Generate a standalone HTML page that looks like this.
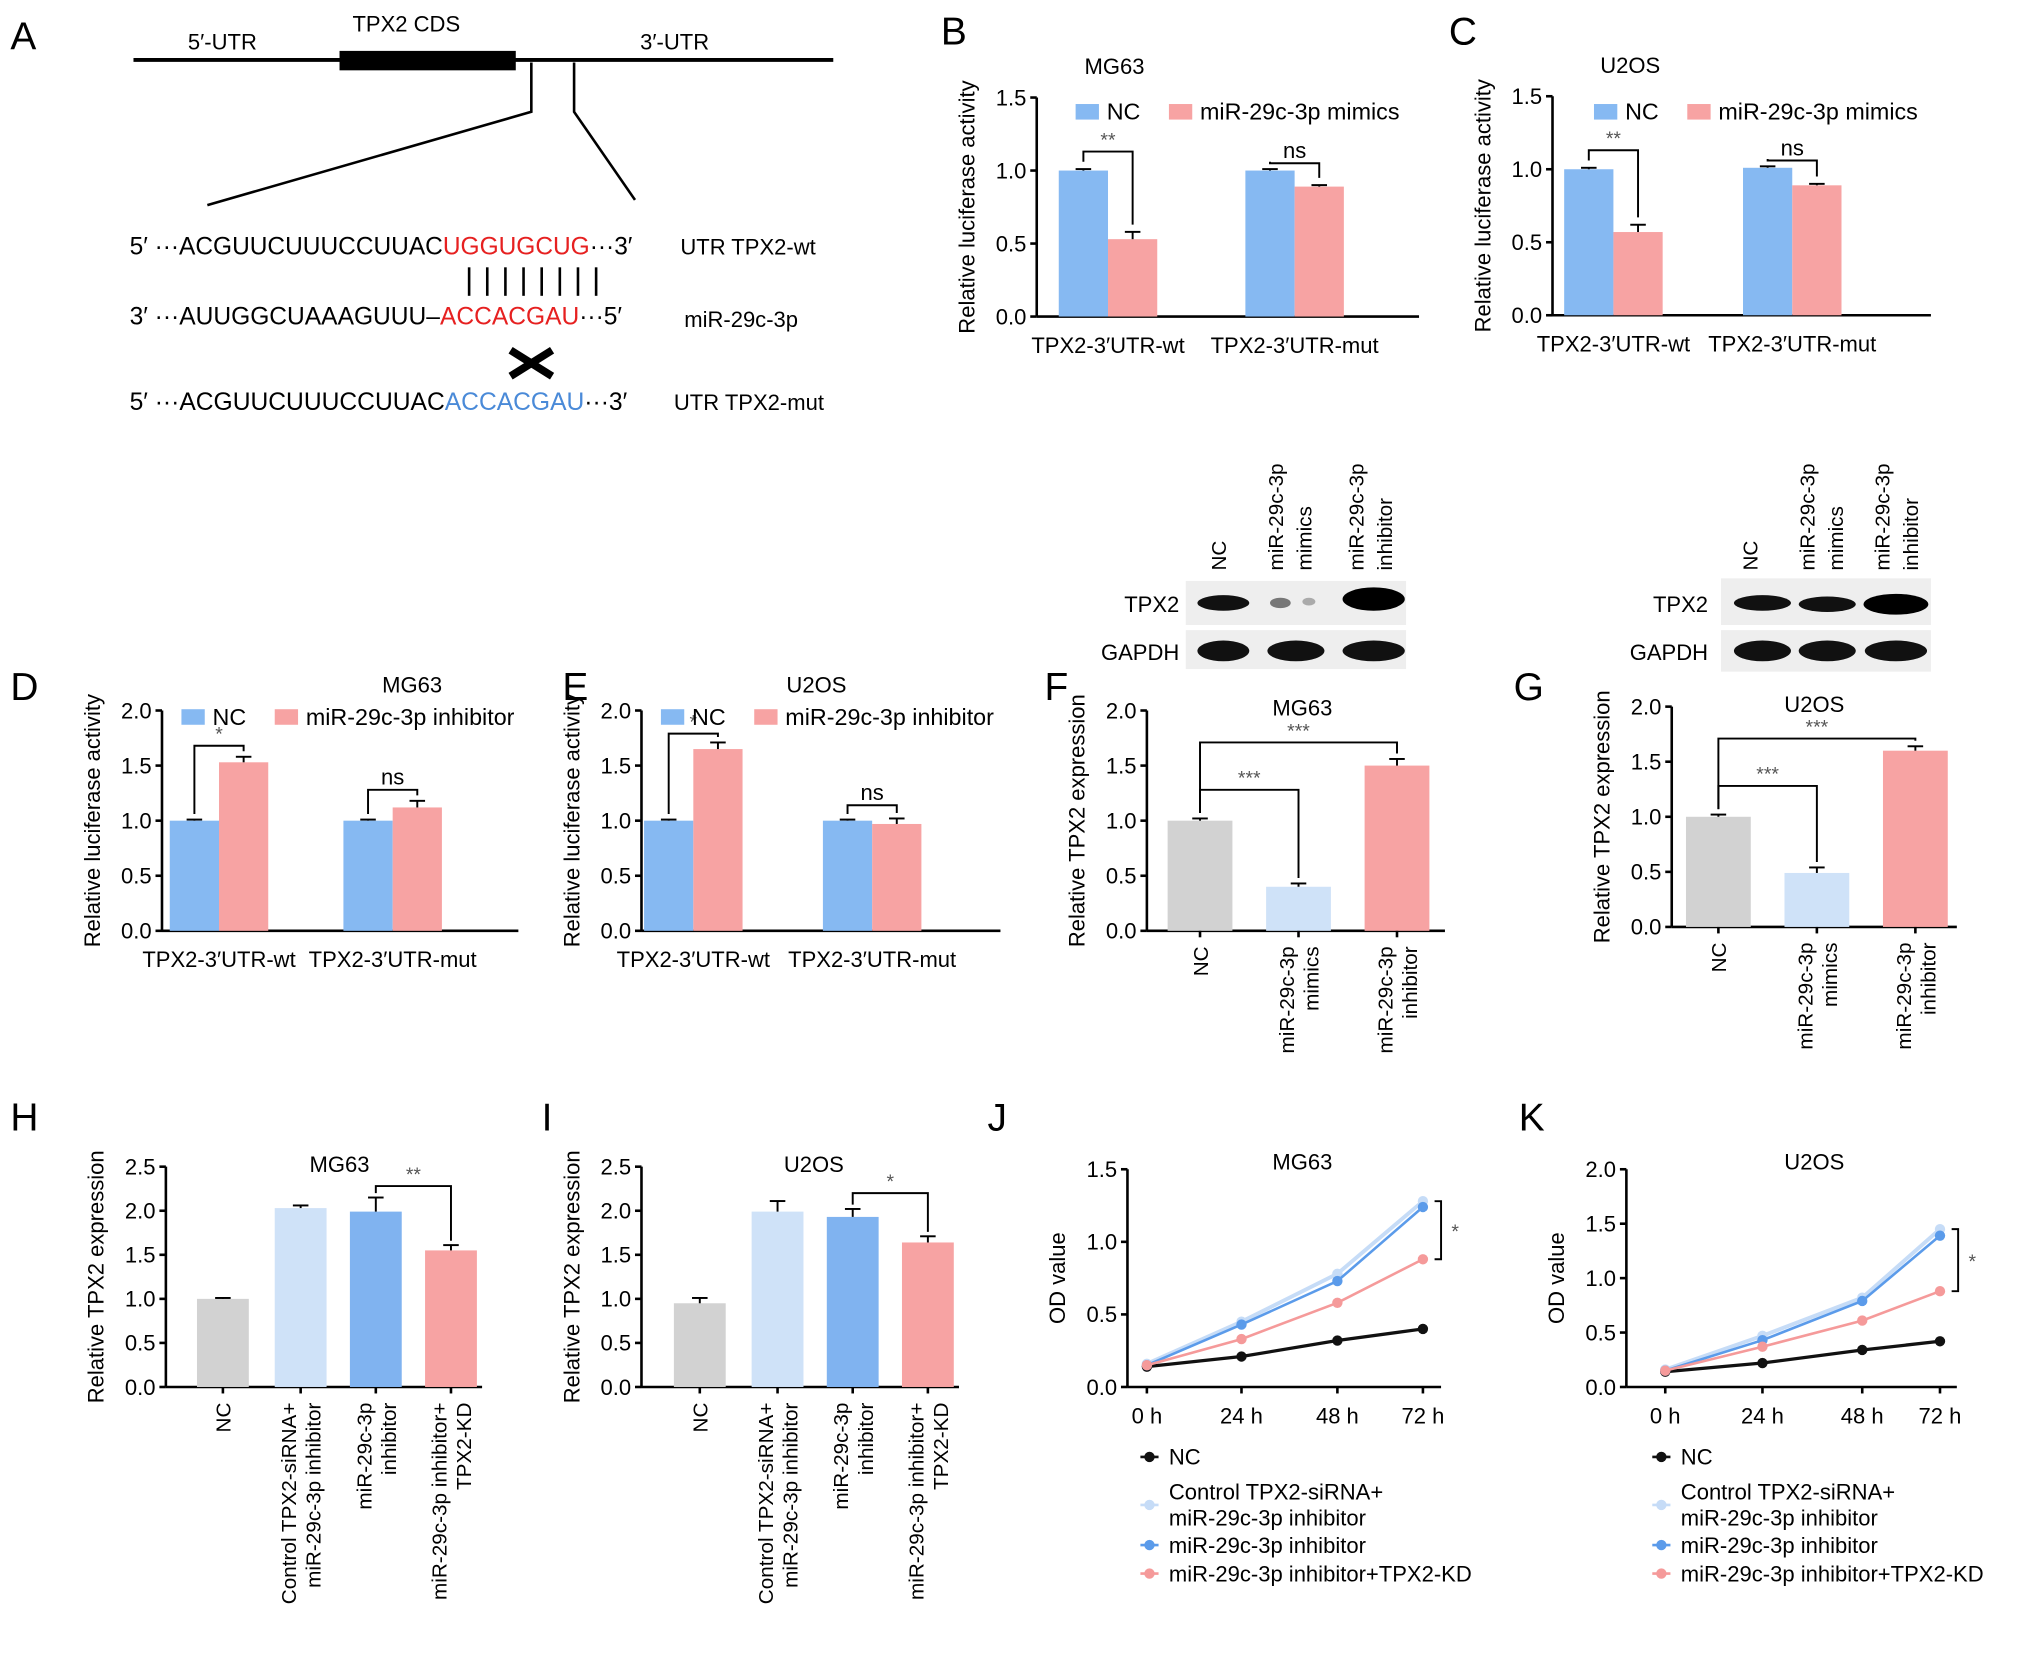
<!DOCTYPE html>
<html><head><meta charset="utf-8">
<style>
html,body{margin:0;padding:0;background:#fff;}
svg{display:block;font-family:"Liberation Sans",sans-serif;}
</style></head>
<body>
<svg id="fig" width="2032" height="1653" viewBox="0 0 1568 1275" xmlns="http://www.w3.org/2000/svg">
<g font-size="30" fill="#000">
<text x="8" y="38">A</text><text x="726" y="34">B</text><text x="1118" y="34">C</text>
<text x="8" y="540">D</text><text x="434" y="540">E</text><text x="806" y="540">F</text><text x="1168" y="540">G</text>
<text x="8" y="872">H</text><text x="418" y="872">I</text><text x="762" y="872">J</text><text x="1172" y="872">K</text>
</g>
<g font-size="17">
<line x1="103" y1="46" x2="643" y2="46" stroke="#000" stroke-width="3"/>
<rect x="262" y="39" width="136" height="15" fill="#000"/>
<text x="145" y="38">5′-UTR</text><text x="272" y="24">TPX2 CDS</text><text x="494" y="38">3′-UTR</text>
<polyline points="410,48 410,86 160,158" fill="none" stroke="#000" stroke-width="2"/>
<polyline points="443,48 443,86 490,154" fill="none" stroke="#000" stroke-width="2"/>
<text x="100" y="196" font-size="19" textLength="388" lengthAdjust="spacingAndGlyphs">5′ ···ACGUUCUUUCCUUAC<tspan fill="#e62020">UGGUGCUG</tspan>···3′</text>
<text x="525" y="196">UTR TPX2-wt</text>
<g stroke="#000" stroke-width="2"><line x1="362" y1="206" x2="362" y2="228"/><line x1="376" y1="206" x2="376" y2="228"/><line x1="390" y1="206" x2="390" y2="228"/><line x1="404" y1="206" x2="404" y2="228"/><line x1="418" y1="206" x2="418" y2="228"/><line x1="432" y1="206" x2="432" y2="228"/><line x1="446" y1="206" x2="446" y2="228"/><line x1="460" y1="206" x2="460" y2="228"/></g>
<text x="100" y="250" font-size="19" textLength="380" lengthAdjust="spacingAndGlyphs">3′ ···AUUGGCUAAAGUUU–<tspan fill="#e62020">ACCACGAU</tspan>···5′</text>
<text x="528" y="252">miR-29c-3p</text>
<g stroke="#000" stroke-width="6"><line x1="394" y1="270" x2="426" y2="290"/><line x1="426" y1="270" x2="394" y2="290"/></g>
<text x="100" y="316" font-size="19" textLength="384" lengthAdjust="spacingAndGlyphs">5′ ···ACGUUCUUUCCUUAC<tspan fill="#4a8ad8">ACCACGAU</tspan>···3′</text>
<text x="520" y="316">UTR TPX2-mut</text>
</g>
<g font-size="17">
<rect x="915" y="448" width="170" height="34" fill="#eee"/><rect x="915" y="486" width="170" height="30" fill="#eee"/>
<ellipse cx="944" cy="465" rx="20" ry="6" fill="#111"/><ellipse cx="988" cy="465" rx="8" ry="4" fill="#777"/><ellipse cx="1010" cy="464" rx="5" ry="3" fill="#aaa"/><ellipse cx="1060" cy="462" rx="24" ry="9" fill="#000"/>
<ellipse cx="944" cy="502" rx="20" ry="8" fill="#111"/><ellipse cx="1000" cy="502" rx="22" ry="8" fill="#111"/><ellipse cx="1060" cy="502" rx="24" ry="8" fill="#111"/>
<text x="910" y="472" text-anchor="end">TPX2</text><text x="910" y="509" text-anchor="end">GAPDH</text>
<g font-size="16"><text transform="translate(946,440) rotate(-90)">NC</text><text transform="translate(990,440) rotate(-90)">miR-29c-3p</text><text transform="translate(1012,440) rotate(-90)">mimics</text><text transform="translate(1052,440) rotate(-90)">miR-29c-3p</text><text transform="translate(1074,440) rotate(-90)">inhibitor</text></g>
<rect x="1328" y="446" width="162" height="36" fill="#eee"/><rect x="1328" y="486" width="162" height="32" fill="#eee"/>
<ellipse cx="1360" cy="465" rx="22" ry="6" fill="#111"/><ellipse cx="1410" cy="466" rx="22" ry="6" fill="#111"/><ellipse cx="1463" cy="466" rx="25" ry="8" fill="#000"/>
<ellipse cx="1360" cy="502" rx="22" ry="8" fill="#111"/><ellipse cx="1410" cy="502" rx="22" ry="8" fill="#111"/><ellipse cx="1463" cy="502" rx="24" ry="8" fill="#111"/>
<text x="1318" y="472" text-anchor="end">TPX2</text><text x="1318" y="509" text-anchor="end">GAPDH</text>
<g font-size="16"><text transform="translate(1356,440) rotate(-90)">NC</text><text transform="translate(1400,440) rotate(-90)">miR-29c-3p</text><text transform="translate(1422,440) rotate(-90)">mimics</text><text transform="translate(1458,440) rotate(-90)">miR-29c-3p</text><text transform="translate(1480,440) rotate(-90)">inhibitor</text></g>
</g>
</svg>
<script>
// ---- data ----
const bB_nc=[1.0,1.0], bB_trt=[0.53,0.89], bB_err=[0.05,0.01];
const bC_nc=[1.0,1.01], bC_trt=[0.57,0.89], bC_err=[0.05,0.01];
const bD_nc=[1.0,1.0], bD_trt=[1.53,1.12], bD_err=[0.05,0.06];
const bE_nc=[1.0,1.0], bE_trt=[1.65,0.97], bE_err=[0.06,0.05];
const groupCats=["TPX2-3′UTR-wt","TPX2-3′UTR-mut"];
const bF_vals=[1.0,0.40,1.50], bF_err=[0.02,0.03,0.06];
const bG_vals=[1.0,0.49,1.60], bG_err=[0.02,0.05,0.04];
const fgCats=[["NC"],["miR-29c-3p","mimics"],["miR-29c-3p","inhibitor"]];
const bH_vals=[1.0,2.03,1.99,1.55], bH_err=[0.01,0.03,0.16,0.06];
const bI_vals=[0.95,1.99,1.93,1.64], bI_err=[0.06,0.12,0.09,0.07];
const hiCats=[["NC"],["Control TPX2-siRNA+","miR-29c-3p inhibitor"],["miR-29c-3p","inhibitor"],["miR-29c-3p inhibitor+","TPX2-KD"]];
const timeLabels=["0 h","24 h","48 h","72 h"];
const J_nc=[0.14,0.21,0.32,0.40], J_ctrl=[0.16,0.45,0.78,1.28], J_inh=[0.15,0.43,0.73,1.24], J_kd=[0.15,0.33,0.58,0.88];
const K_nc=[0.14,0.22,0.34,0.42], K_ctrl=[0.16,0.47,0.82,1.45], K_inh=[0.15,0.43,0.79,1.39], K_kd=[0.15,0.37,0.61,0.88];
const ticks15=[0,0.5,1.0,1.5], ticks20=[0,0.5,1.0,1.5,2.0], ticks25=[0,0.5,1.0,1.5,2.0,2.5];

const NS="http://www.w3.org/2000/svg", svg=document.getElementById('fig');
const BLUE="#86b9f2", PINK="#f7a3a3", GRAY="#d2d2d2", LBLUE="#cfe2f8", MBLUE="#80b3f0";
function mk(tag,attrs,parent){const e=document.createElementNS(NS,tag);for(const k in attrs)e.setAttribute(k,attrs[k]);(parent||svg).appendChild(e);return e;}
function txt(s,attrs,parent){const e=mk('text',attrs,parent);e.textContent=s;return e;}

function axes(g,ax,y0,yTop,xEnd,ticks,max,ylabel){
  const ys=v=>y0-(v/max)*(y0-yTop);
  let e=mk('line',{x1:ax,y1:y0,x2:ax,y2:yTop,stroke:'#000','stroke-width':2},g);
  
  e=mk('line',{x1:ax,y1:y0,x2:xEnd,y2:y0,stroke:'#000','stroke-width':2},g);
  
  ticks.forEach(t=>{mk('line',{x1:ax-5,y1:ys(t),x2:ax,y2:ys(t),stroke:'#000','stroke-width':2},g);
    const l=txt(t.toFixed(1),{x:ax-8,y:ys(t)+6,'text-anchor':'end','font-size':17},g);
    });
  const yl=txt(ylabel,{transform:`translate(${ax-48},${(y0+yTop)/2}) rotate(-90)`,'text-anchor':'middle','font-size':17},g);
  
  return ys;
}
function bar(g,cx,w,v,err,ys,col){
  const r=mk('rect',{x:cx-w/2,y:ys(v),width:w,height:ys(0)-ys(v),fill:col},g);
  
  mk('line',{x1:cx,y1:ys(v),x2:cx,y2:ys(v+err),stroke:'#000','stroke-width':1.5},g);
  mk('line',{x1:cx-6,y1:ys(v+err),x2:cx+6,y2:ys(v+err),stroke:'#000','stroke-width':1.5},g);
}
function bracket(g,x1,x2,ytop,yl,yr,label){
  mk('polyline',{points:`${x1},${yl} ${x1},${ytop} ${x2},${ytop} ${x2},${yr}`,fill:'none',stroke:'#000','stroke-width':1.5},g);
  const t=txt(label,{x:(x1+x2)/2,y:ytop-4,'text-anchor':'middle','font-size':label=='ns'?17:15,fill:label=='ns'?'#000':'#555'},g);
  
}
function groupPanel(name,ax,y0,yTop,xEnd,ticks,max,nc,trt,err,xs,title,tx,ty,legendTrt,legX,legY,sigs){
  const g=mk('g',{});
  const ys=axes(g,ax,y0,yTop,xEnd,ticks,max,"Relative luciferase activity");
  const w=38;
  nc.forEach((v,i)=>{bar(g,xs[i],w,v,0.01,ys,BLUE);bar(g,xs[i]+w,w,trt[i],err[i],ys,PINK);
    const l=txt(groupCats[i],{x:xs[i]+w/2,y:y0+28,'text-anchor':'middle','font-size':17},g);
    
    const top=Math.max(v+0.01,trt[i]+err[i]);
    bracket(g,xs[i],xs[i]+w,ys(Math.max(top,v)+sigs[i][1]),ys(v+0.06),ys(trt[i]+err[i]+0.05),sigs[i][0]);});
  const t=txt(title,{x:tx,y:ty,'text-anchor':'middle','font-size':17},g);
  const lg=mk('g',{},g);
  mk('rect',{x:legX,y:legY-12,width:18,height:12,fill:BLUE},lg);txt("NC",{x:legX+24,y:legY,'font-size':18},lg);
  mk('rect',{x:legX+72,y:legY-12,width:18,height:12,fill:PINK},lg);txt(legendTrt,{x:legX+96,y:legY,'font-size':18},lg);
}
groupPanel('panel-b-chart',800,244,75,1095,ticks15,1.5,bB_nc,bB_trt,bB_err,[836,980],"MG63",860,57,"miR-29c-3p mimics",830,92,[["**",0.12],["ns",0.04]]);
groupPanel('panel-c-chart',1198,243,74,1490,ticks15,1.5,bC_nc,bC_trt,bC_err,[1226,1364],"U2OS",1258,56,"miR-29c-3p mimics",1230,92,[["**",0.12],["ns",0.04]]);
groupPanel('panel-d-chart',125,718,548,400,ticks20,2.0,bD_nc,bD_trt,bD_err,[150,284],"MG63",318,534,"miR-29c-3p inhibitor",140,559,[["*",0.1],["ns",0.1]]);
groupPanel('panel-e-chart',495,718,548,772,ticks20,2.0,bE_nc,bE_trt,bE_err,[516,654],"U2OS",630,534,"miR-29c-3p inhibitor",510,559,[["*",0.08],["ns",0.12]]);

function catPanel(name,ax,y0,yTop,xEnd,ticks,max,vals,err,cats,cols,xs,w,title,tx,sigs){
  const g=mk('g',{});
  const ys=axes(g,ax,y0,yTop,xEnd,ticks,max,"Relative TPX2 expression");
  vals.forEach((v,i)=>{bar(g,xs[i],w,v,err[i],ys,cols[i]);
    mk('line',{x1:xs[i],y1:y0,x2:xs[i],y2:y0+5,stroke:'#000','stroke-width':2},g);
    const lines=cats[i];
    lines.forEach((s,j)=>{const off=(j-(lines.length-1)/2)*19+6;
      const l=txt(s,{transform:`translate(${xs[i]+off},${y0+12}) rotate(-90)`,'text-anchor':'end','font-size':16},g);
      });});
  const t=txt(title,{x:tx,y:yTop+4,'text-anchor':'middle','font-size':17},g);
  sigs.forEach(s=>bracket(g,xs[s[0]],xs[s[1]],ys(s[2]),ys(vals[s[0]]+err[s[0]]+0.05),ys(vals[s[1]]+err[s[1]]+0.05),s[3]));
}
catPanel('panel-f-chart',885,718,548,1115,ticks20,2.0,bF_vals,bF_err,fgCats,[GRAY,LBLUE,PINK],[926,1002,1078],50,"MG63",1005,[[0,1,1.28,"***"],[0,2,1.71,"***"]]);
catPanel('panel-g-chart',1290,715,545,1510,ticks20,2.0,bG_vals,bG_err,fgCats,[GRAY,LBLUE,PINK],[1326,1402,1478],50,"U2OS",1400,[[0,1,1.28,"***"],[0,2,1.71,"***"]]);
catPanel('panel-h-chart',128,1070,900,372,ticks25,2.5,bH_vals,bH_err,hiCats,[GRAY,LBLUE,MBLUE,PINK],[172,232,290,348],40,"MG63",262,[[2,3,2.28,"**"]]);
catPanel('panel-i-chart',495,1070,900,740,ticks25,2.5,bI_vals,bI_err,hiCats,[GRAY,LBLUE,MBLUE,PINK],[540,600,658,716],40,"U2OS",628,[[2,3,2.2,"*"]]);

function linePanel(name,ax,y0,yTop,xEnd,ticks,max,xs,series,title,tx,legX){
  const g=mk('g',{});
  const ys=axes(g,ax,y0,yTop,xEnd,ticks,max,"OD value");
  xs.forEach((x,i)=>{mk('line',{x1:x,y1:y0,x2:x,y2:y0+5,stroke:'#000','stroke-width':2},g);
    const l=txt(timeLabels[i],{x:x,y:y0+28,'text-anchor':'middle','font-size':17},g);
    });
  const t=txt(title,{x:tx,y:yTop,'text-anchor':'middle','font-size':17},g);
  series.forEach(s=>{
    const p=mk('polyline',{points:s.v.map((v,i)=>xs[i]+','+ys(v)).join(' '),fill:'none',stroke:s.c,'stroke-width':s.w},g);
    
    s.v.forEach((v,i)=>{const c=mk('circle',{cx:xs[i],cy:ys(v),r:4,fill:s.c},g);
      
      mk('line',{x1:xs[i],y1:ys(v-0.03),x2:xs[i],y2:ys(v+0.03),stroke:s.c,'stroke-width':2},g);});
  });
  const last=xs[3]+14;
  const a=series[1].v[3], b=series[3].v[3];
  mk('polyline',{points:`${last-5},${ys(a)} ${last},${ys(a)} ${last},${ys(b)} ${last-5},${ys(b)}`,fill:'none',stroke:'#000','stroke-width':1.5},g);
  txt("*",{x:last+8,y:(ys(a)+ys(b))/2+6,'font-size':15,fill:'#555'},g);
  const lg=mk('g',{},g);
  const rows=[[1130,["NC"],0],[1157,["Control TPX2-siRNA+","miR-29c-3p inhibitor"],1],[1198,["miR-29c-3p inhibitor"],2],[1220,["miR-29c-3p inhibitor+TPX2-KD"],3]];
  rows.forEach(r=>{const cy=r[0]+(r[1].length-1)*10-6;
    mk('line',{x1:legX,y1:cy,x2:legX+14,y2:cy,stroke:series[r[2]].c,'stroke-width':2},lg);
    mk('circle',{cx:legX+7,cy:cy,r:4,fill:series[r[2]].c},lg);
    r[1].forEach((s,j)=>txt(s,{x:legX+22,y:r[0]+j*20,'font-size':17},lg));});
}
linePanel('panel-j-chart',870,1070,902,1112,ticks15,1.5,[885,958,1032,1098],
 [{v:J_nc,c:'#111',w:2.5},{v:J_ctrl,c:'#c6dcf7',w:3},{v:J_inh,c:'#5b9bea',w:2},{v:J_kd,c:'#f59a9a',w:2}],"MG63",1005,880);
linePanel('panel-k-chart',1255,1070,902,1510,ticks20,2.0,[1285,1360,1437,1497],
 [{v:K_nc,c:'#111',w:2.5},{v:K_ctrl,c:'#c6dcf7',w:3},{v:K_inh,c:'#5b9bea',w:2},{v:K_kd,c:'#f59a9a',w:2}],"U2OS",1400,1275);
</script>
</body></html>
